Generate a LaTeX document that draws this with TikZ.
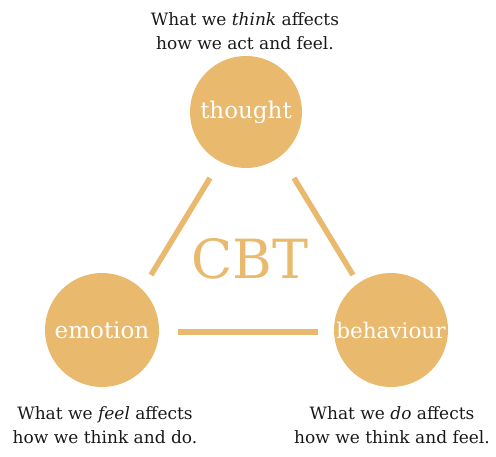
\documentclass[tikz,border=0pt]{standalone}
\usepackage{fontspec}
\setmainfont{DejaVu Serif}
\definecolor{cbtgold}{HTML}{E9B96E}
\begin{document}
\begin{tikzpicture}[x=1pt,y=-1pt,
  bubble/.style={circle,fill=cbtgold,minimum size=112pt,inner sep=0pt,text=white,font=\fontsize{23}{26}\selectfont},
  link/.style={draw=cbtgold,line width=5.5pt},
  caption/.style={align=center,font=\fontsize{17}{24.5}\selectfont,text=black!90}]
\useasboundingbox (0,0) rectangle (496,457);
\node[bubble] (thought) at (246,112) {thought};
\node[bubble,minimum size=114pt] (emotion) at (102,330) {emotion};
\node[bubble,minimum size=114pt,font=\fontsize{21.5}{26}\selectfont] (behaviour) at (391,330) {behaviour};
\node[text=cbtgold,font=\fontsize{54}{60}\selectfont] (cbt) at (250,259) {CBT};
\coordinate (l1) at (210,178); \coordinate (l2) at (151,275);
\coordinate (r1) at (294,178); \coordinate (r2) at (353,275);
\coordinate (b1) at (178,332); \coordinate (b2) at (318,332);
\draw[link] (l1) -- (l2);
\draw[link] (r1) -- (r2);
\draw[link] (b1) -- (b2);
\node[caption] (tcap) at (245,31) {What we \textit{think} affects\\how we act and feel.};
\node[caption] (ecap) at (105,425) {What we \textit{feel} affects\\how we think and do.};
\node[caption] (bcap) at (392,425) {What we \textit{do} affects\\how we think and feel.};
\end{tikzpicture}
\end{document}
